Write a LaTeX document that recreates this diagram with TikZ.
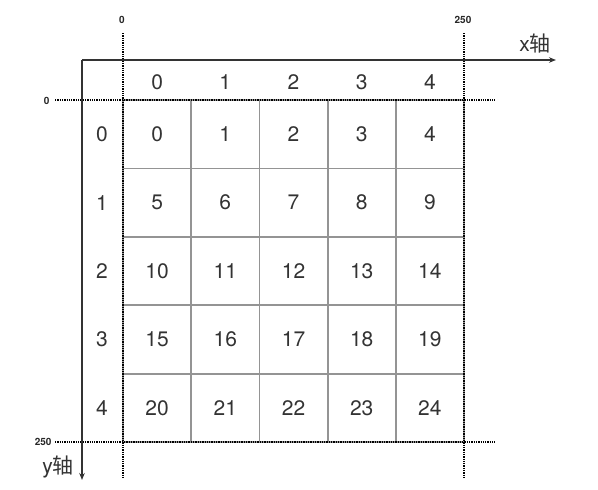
\documentclass[tikz,border=0pt]{standalone}
\usepackage{fontspec}
\setmainfont{TeX Gyre Heros}
\newfontfamily\cjk{Noto Sans CJK SC}
\usetikzlibrary{arrows.meta}

\tikzset{
  gridline/.style={draw=black!42, line width=1.8pt},
  guide/.style={densely dotted, line width=1.3pt},
  axisline/.style={draw=black!80, line width=1.3pt, -{Stealth[length=7pt, width=5.5pt]}},
  ticklabel/.style={font=\fontsize{10}{11}\selectfont\bfseries, text=black!85},
}

\begin{document}
\begin{tikzpicture}[x=1pt, y=-1pt, every node/.style={font=\fontsize{21}{24}\selectfont, text=black!80}]
    \useasboundingbox (0,0) rectangle (598,490);

    % ---------- grid cells ----------
    \draw[gridline] (123,100) rectangle (464,442);
    \foreach \c in {1,...,4}
      \draw[gridline] ({123+68.2*\c},100) -- ({123+68.2*\c},442);
    \foreach \r in {1,...,4}
      \draw[gridline] (123,{100+68.4*\r}) -- (464,{100+68.4*\r});

    \foreach \r in {0,...,4}
      \foreach \c in {0,...,4} {
        \pgfmathtruncatemacro\n{5*\r+\c}
        \node (c\n) at ({123+68.2*(\c+0.5)},{100+68.4*(\r+0.5)}) {\n};
      }

    % column and row indices
    \foreach \c in {0,...,4}
      \node (h\c) at ({123+68.2*(\c+0.5)},82) {\c};
    \foreach \r in {0,...,4}
      \node (r\r) at (102,{100+68.4*(\r+0.5)}) {\r};

    % ---------- dotted guides ----------
    \coordinate (gl0) at (123,33);  \coordinate (gl1) at (123,478);
    \coordinate (gr0) at (464,33);  \coordinate (gr1) at (464,478);
    \coordinate (gt0) at (55,100);  \coordinate (gt1) at (495,100);
    \coordinate (gb0) at (55,442);  \coordinate (gb1) at (495,442);
    \draw[guide] (gl0) -- (gl1);
    \draw[guide] (gr0) -- (gr1);
    \draw[guide] (gt0) -- (gt1);
    \draw[guide] (gb0) -- (gb1);

    \node[ticklabel] (tx0) at (122,20) {0};
    \node[ticklabel] (tx250) at (463,20) {250};
    \node[ticklabel, anchor=east] (ty0) at (53,101) {0};
    \node[ticklabel, anchor=east] (ty250) at (55,442) {250};

    % ---------- axes ----------
    \coordinate (O) at (82,60);
    \coordinate (xend) at (556,60);
    \coordinate (yend) at (82,480);
    \draw[axisline] (O) -- (xend);
    \draw[axisline] (O) -- (yend);

    \node (xlab) at (535,44) {x{\cjk 轴}};
    \node (ylab) at (58,467) {y{\cjk 轴}};
\end{tikzpicture}
\end{document}
